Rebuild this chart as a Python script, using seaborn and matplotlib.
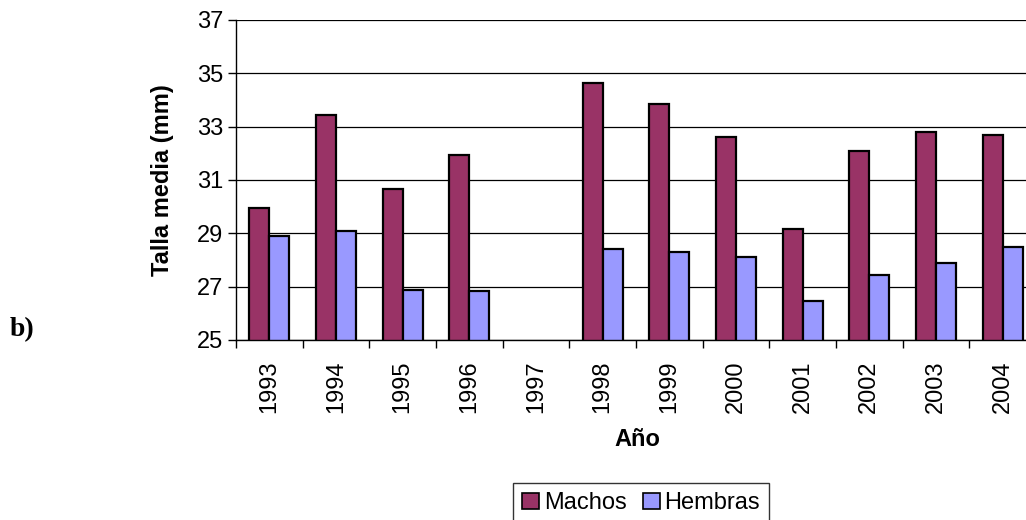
import numpy as np
import pandas as pd
import seaborn as sns
import matplotlib.pyplot as plt
from matplotlib.patches import Patch

# =========================
# DATA
# =========================

years = ["1993", "1994", "1995", "1996", "1997", "1998",
         "1999", "2000", "2001", "2002", "2003", "2004"]
machos = [29.95, 33.45, 30.65, 31.95, np.nan, 34.65,
          33.85, 32.6, 29.15, 32.1, 32.8, 32.7]
hembras = [28.9, 29.07, 26.87, 26.83, np.nan, 28.43,
           28.3, 28.12, 26.47, 27.42, 27.9, 28.48]
series = ["Machos", "Hembras"]
colors = ["#993366", "#9999FF"]
y_ticks = [25, 27, 29, 31, 33, 35, 37]


def build_df():
    df = pd.DataFrame({"year": years, "Machos": machos, "Hembras": hembras})
    return df.melt(id_vars="year", var_name="sexo", value_name="talla")


def main():
    sns.set_theme(style="white")
    plt.rcParams["font.family"] = ["Liberation Sans", "DejaVu Sans"]
    plt.rcParams["text.color"] = "black"
    plt.rcParams["xtick.color"] = "black"
    plt.rcParams["ytick.color"] = "black"
    plt.rcParams["axes.labelcolor"] = "black"

    df = build_df()

    fig = plt.figure(figsize=(10.26, 5.2), dpi=100)
    # axes run past the right edge of the picture like in the original
    ax = fig.add_axes([236 / 1026, 1 - 340 / 520, 800 / 1026, 320 / 520])

    sns.barplot(data=df, x="year", y="talla", hue="sexo", order=years,
                hue_order=series, palette=colors, saturation=1, width=0.6,
                edgecolor="black", linewidth=1.6, errorbar=None,
                legend=False, ax=ax)

    # bars start at 25, not 0
    ax.set_ylim(25, 37)
    ax.set_xlim(-0.5, len(years) - 0.5)
    ax.set_yticks(y_ticks)
    ax.yaxis.grid(True, color="black", linewidth=0.9)
    ax.set_axisbelow(True)

    for s in ["top", "right"]:
        ax.spines[s].set_visible(False)
    ax.spines["left"].set_color("black")
    ax.spines["bottom"].set_color("black")
    ax.spines["left"].set_linewidth(1.0)
    ax.spines["bottom"].set_linewidth(1.0)

    # tick marks between categories, labels at category centres
    ax.set_xticks(np.arange(len(years)))
    ax.set_xticklabels(years, rotation=90, fontsize=17)
    ax.set_xticks(np.arange(-0.5, len(years), 1.0), minor=True)
    ax.tick_params(axis="x", which="major", length=0, pad=15)
    ax.tick_params(axis="x", which="minor", length=6, width=1,
                   direction="out", bottom=True)
    ax.tick_params(axis="y", length=6, width=1, direction="out", left=True,
                   labelsize=17, pad=3)

    ax.set_xlabel("")
    ax.set_ylabel("Talla media (mm)", fontsize=17, fontweight="bold")
    ax.yaxis.set_label_coords(-0.077, 0.5)
    fig.text(637 / 1026, 1 - 440 / 520, "Año", fontsize=17,
             fontweight="bold", ha="center", va="center")

    fig.text(10 / 1026, 1 - 330 / 520, "b)", fontsize=20, fontweight="bold",
             family=["Liberation Serif", "DejaVu Serif"], ha="left",
             va="center")

    handles = [Patch(facecolor=c, edgecolor="black", linewidth=1.2)
               for c in colors]
    leg = fig.legend(handles, series, loc="upper left",
                     bbox_to_anchor=(513 / 1026, 1 - 483 / 520),
                     ncol=2, fontsize=17, frameon=True, fancybox=False,
                     handlelength=0.7, handleheight=0.7, handletextpad=0.2,
                     columnspacing=0.7, borderpad=0.4, borderaxespad=0)
    leg.get_frame().set_edgecolor("black")
    leg.get_frame().set_linewidth(1.0)

    fig.savefig("out.png", dpi=100)


if __name__ == "__main__":
    main()
